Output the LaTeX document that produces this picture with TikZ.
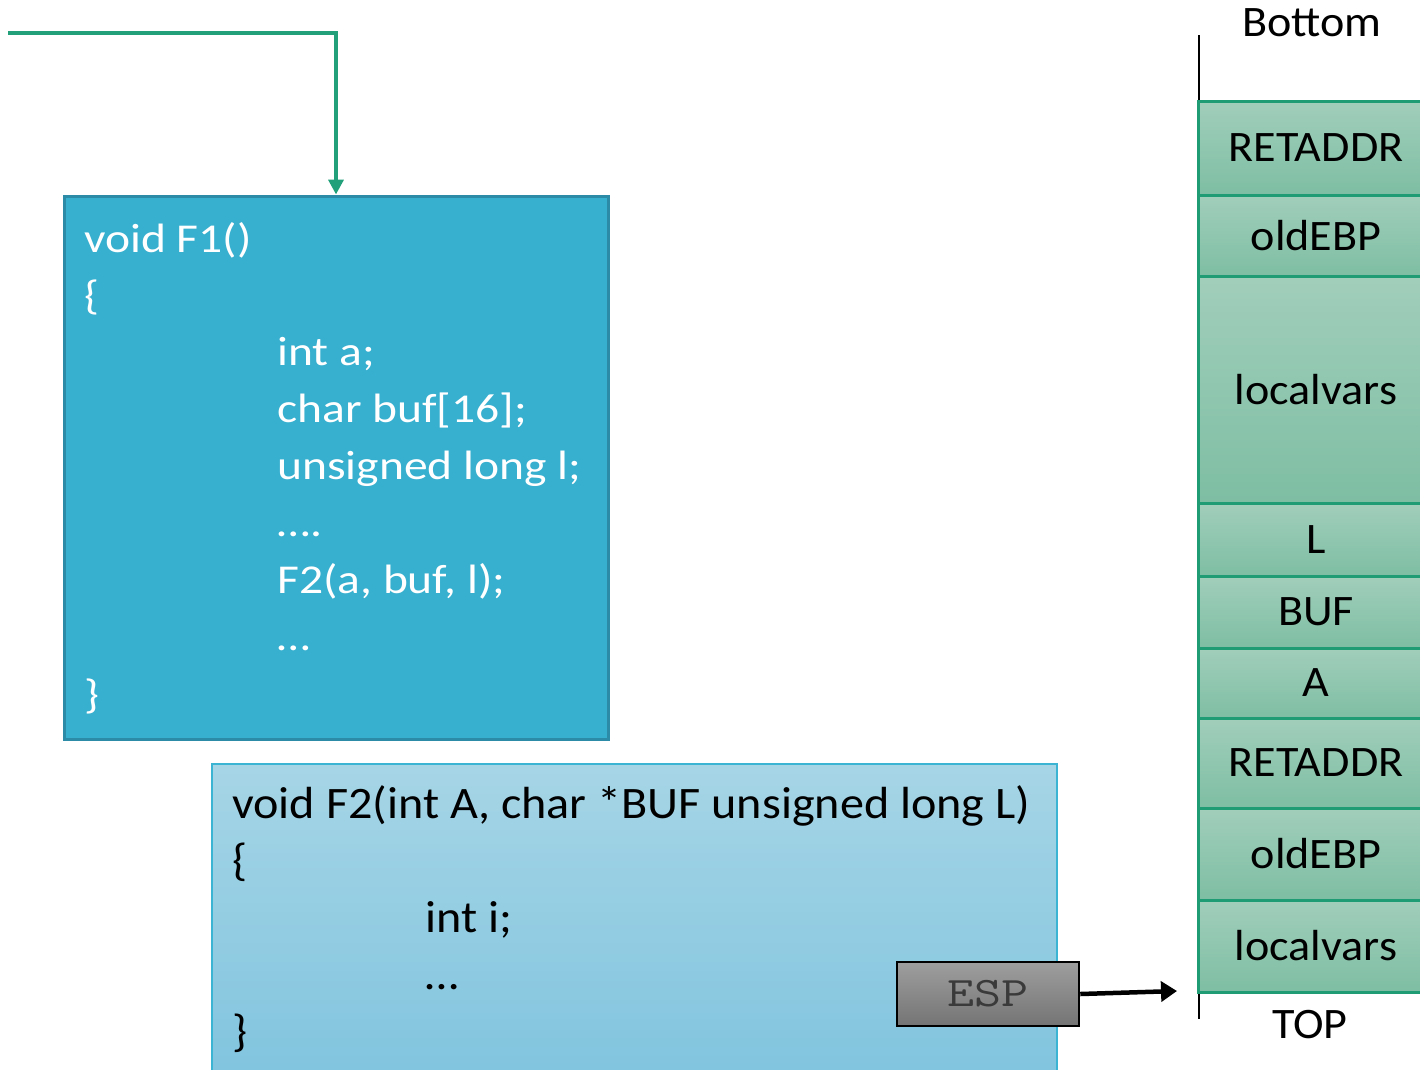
\documentclass[tikz,border=0pt]{standalone}
\usepackage{fontspec}
\usepackage{graphicx}
\setmainfont{Carlito}
\usetikzlibrary{arrows.meta}

\definecolor{fonebg}{HTML}{37AFCF}
\definecolor{foneline}{HTML}{2C8BA7}
\definecolor{ftwotop}{HTML}{A6D5E6}
\definecolor{ftwobot}{HTML}{80C4DE}
\definecolor{ftwoline}{HTML}{3BB3D2}
\definecolor{celltop}{HTML}{A1CEBB}
\definecolor{cellbot}{HTML}{7EBEA3}
\definecolor{cellline}{HTML}{1F9C74}
\definecolor{callgreen}{HTML}{22A07A}
\definecolor{esptop}{HTML}{9E9E9E}
\definecolor{espbot}{HTML}{747474}
\definecolor{esptext}{HTML}{3A3A3A}

% wide-set label text
\newcommand{\widelbl}[1]{\scalebox{1.06}[1]{#1}}

\tikzset{
  codebox/.style={draw, rectangle, inner sep=0pt},
  fonecode/.style={anchor=base west, inner sep=0pt, text=white,
    font=\fontsize{41}{49}\selectfont, xscale=1.16, transform shape},
  ftwocode/.style={anchor=base west, inner sep=0pt, text=black,
    font=\fontsize{45}{54}\selectfont, xscale=1.07, transform shape},
  cell/.style={draw=cellline, line width=3pt, rectangle, inner sep=0pt,
    top color=celltop, bottom color=cellbot,
    minimum width=236pt, font=\fontsize{43.5}{52}\selectfont},
  stacklabel/.style={inner sep=0pt, font=\fontsize{43.5}{52}\selectfont},
  espbox/.style={draw=black, line width=2.5pt, rectangle, inner sep=0pt,
    top color=esptop, bottom color=espbot, text=esptext,
    font=\ttfamily\fontsize{42}{50}\selectfont,
    minimum width=182pt, minimum height=64pt},
}

\begin{document}
\begin{tikzpicture}[x=1pt, y=-1pt]
\useasboundingbox (0,0) rectangle (1420,1069);

% caller function F1
\node[codebox, draw=foneline, line width=3pt, fill=fonebg,
      minimum width=544pt, minimum height=543pt] (f1) at (336,467.5) {};
\node[fonecode] (f1l1) at (84,252) {void F1()};
\node[fonecode] (f1l2) at (84,309) {\{};
\node[fonecode] (f1l3) at (277,365) {int a;};
\node[fonecode] (f1l4) at (277,422) {char buf[16];};
\node[fonecode] (f1l5) at (277,479) {unsigned long l;};
\node[fonecode] (f1l6) at (277,536) {….};
\node[fonecode] (f1l7) at (277,593) {F2(a, buf, l);};
\node[fonecode] (f1l8) at (277,650) {…};
\node[fonecode] (f1l9) at (84,708) {\}};

% callee function F2
\node[codebox, draw=ftwoline, line width=2.5pt,
      top color=ftwotop, bottom color=ftwobot,
      minimum width=845pt, minimum height=320pt] (f2) at (634.5,924) {};
\node[ftwocode] (f2l1) at (232,818) {void F2(int A, char *BUF unsigned long L)};
\node[ftwocode] (f2l2) at (232,875) {\{};
\node[ftwocode] (f2l3) at (425,932) {int i;};
\node[ftwocode] (f2l4) at (425,989) {…};
\node[ftwocode] (f2l5) at (232,1046) {\}};

% stack frames
\node[cell, minimum height=94pt]  (s1) at (1316,148)   {\widelbl{RETADDR}};
\node[cell, minimum height=81pt]  (s2) at (1316,235.5) {\widelbl{oldEBP}};
\node[cell, minimum height=227pt] (s3) at (1316,389.5) {\widelbl{localvars}};
\node[cell, minimum height=73pt]  (s4) at (1316,539.5) {\widelbl{L}};
\node[cell, minimum height=72pt]  (s5) at (1316,612)   {\widelbl{BUF}};
\node[cell, minimum height=70pt]  (s6) at (1316,683)   {\widelbl{A}};
\node[cell, minimum height=90pt]  (s7) at (1316,763)   {\widelbl{RETADDR}};
\node[cell, minimum height=92pt]  (s8) at (1316,854)   {\widelbl{oldEBP}};
\node[cell, minimum height=92pt]  (s9) at (1316,946)   {\widelbl{localvars}};

\node[stacklabel] (bottom) at (1312,23) {\widelbl{Bottom}};
\node[stacklabel] (top) at (1310,1025) {\widelbl{TOP}};

% stack axis stubs
\coordinate (axtop) at (1199,35);
\coordinate (axbot) at (1199,1019);
\draw[line width=2.5pt] (axtop) -- (axtop |- s1.north);
\draw[line width=2.5pt] (axbot |- s9.south) -- (axbot);

% stack pointer
\node[espbox] (esp) at (988,994) {\scalebox{1.25}[1]{ESP}};
\coordinate (esptip) at (1177,991);
\draw[line width=4.5pt, -{Triangle[length=16pt, width=20pt]}] (esp.east) -- (esptip);

% call arrow into F1
\coordinate (callstart) at (8,33);
\draw[callgreen, line width=4pt, -{Triangle[length=15pt, width=15pt]}]
  (callstart) -| (f1.north);
\end{tikzpicture}
\end{document}
